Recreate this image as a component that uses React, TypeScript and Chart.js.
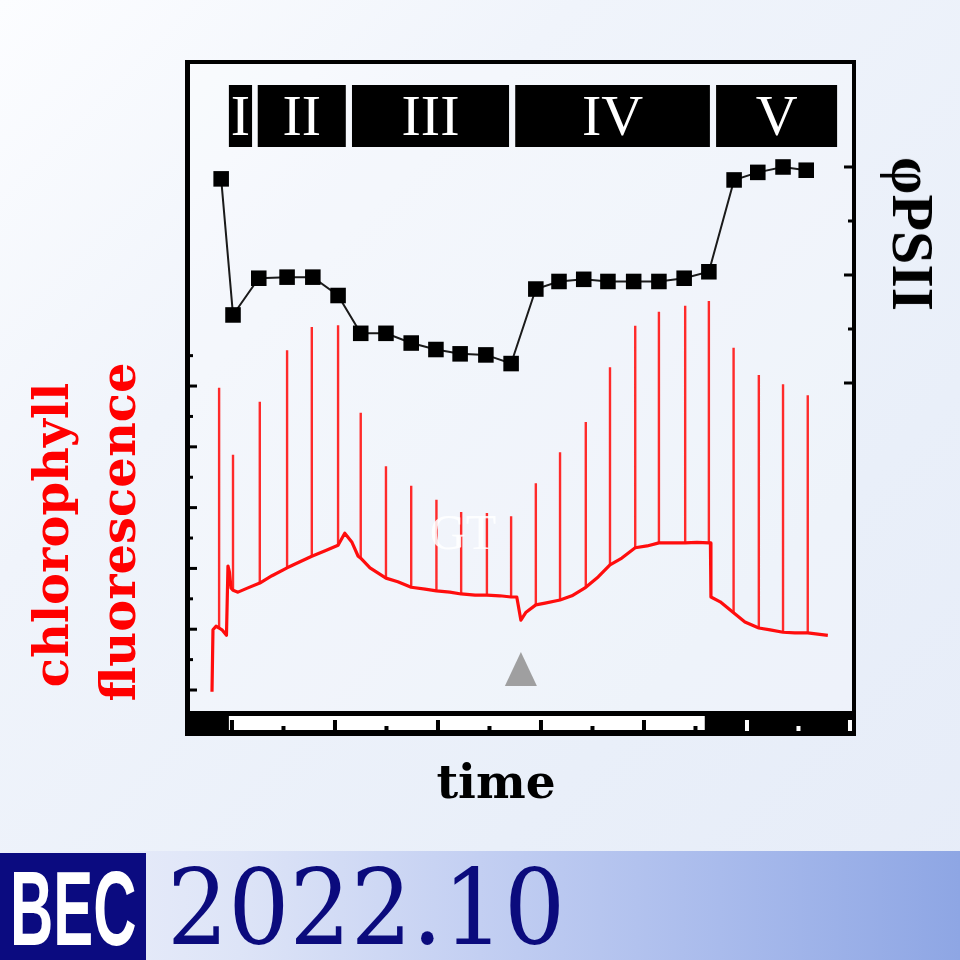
import React, { useEffect, useRef } from 'react';
import { Chart, registerables } from 'chart.js';

Chart.register(...registerables);

// ---- phase bar (top) ----
const phaseLabels = ['I', 'II', 'III', 'IV', 'V'];
const phaseStart = [-0.6, 5.0, 23.3, 55.0, 94.0];
const phaseEnd = [3.9, 22.1, 53.8, 92.8, 117.5];

// ---- light bar (bottom): light on / off (time units) ----
const lightPeriod = [-0.6, 91.8];
const timeTicks = [0, 10, 20, 30, 40, 50, 60, 70, 80, 90, 100, 110, 120];
const fluorTicks = [0, 0.5, 1, 1.5, 2, 2.5, 3, 3.5, 4, 4.5, 5, 5.5];
const phiTicks = [0.6, 0.65, 0.7, 0.75, 0.8];

// ---- ΦPSII (black squares) ----
const phiTime = [-2.1, 0.2, 5.2, 10.7, 15.7, 20.6, 25.0, 29.9, 34.8, 39.6, 44.3, 49.3, 54.2,
  59.0, 63.5, 68.3, 73.0, 78.0, 82.9, 87.8, 92.6, 97.5, 102.1, 107.0, 111.5];
const phiValue = [0.789, 0.663, 0.697, 0.698, 0.698, 0.681, 0.646, 0.646, 0.637, 0.631, 0.627, 0.626, 0.618,
  0.687, 0.694, 0.696, 0.694, 0.694, 0.694, 0.697, 0.703, 0.788, 0.795, 0.800, 0.797];

// ---- chlorophyll fluorescence: saturation pulses ----
const pulseTime = [-2.5, 0.2, 5.4, 10.7, 15.5, 20.6, 25.0, 29.9, 34.8, 39.7, 44.5, 49.5, 54.2,
  59.0, 63.7, 68.7, 73.4, 78.3, 82.9, 88.0, 92.6, 97.4, 102.3, 107.0, 111.8];
const pulseBase = [1.02, 1.64, 1.76, 2.01, 2.20, 2.38, 2.17, 1.84, 1.69, 1.63, 1.58, 1.56, 1.53,
  1.40, 1.48, 1.69, 2.06, 2.34, 2.42, 2.42, 2.42, 1.27, 1.02, 0.95, 0.94];
const pulsePeak = [4.97, 3.87, 4.74, 5.59, 5.97, 6.00, 4.56, 3.68, 3.36, 3.13, 2.93, 2.91, 2.86,
  3.40, 3.91, 4.41, 5.31, 5.99, 6.22, 6.32, 6.40, 5.63, 5.18, 5.03, 4.85];

// ---- chlorophyll fluorescence: baseline trace ----
const traceTime = [-3.88, -3.69, -3.1, -1.94, -1.07, -0.78, -0.49, -0.19, 1.17, 3.1, 7.77, 13.2, 18.1,
  21.9, 23.3, 24.5, 26.8, 32.2, 37.5, 42.3, 47.2, 52.0, 55.3, 56.1, 57.1, 60.8, 66.0, 71.1, 75.7,
  80.6, 85.4, 90.3, 92.9, 93.0, 94.8, 99.6, 104.5, 109.3, 115.7];
const traceF = [-0.03, 0.99, 1.05, 0.99, 0.90, 2.04, 1.94, 1.68, 1.61, 1.68, 1.88, 2.11, 2.29,
  2.58, 2.43, 2.20, 2.01, 1.78, 1.66, 1.61, 1.56, 1.55, 1.53, 1.15, 1.28, 1.43, 1.55, 1.86, 2.17,
  2.37, 2.42, 2.43, 2.42, 1.53, 1.45, 1.12, 0.99, 0.94, 0.90];

const markerTime = 56.1;

function buildBaseline() {
  const pts: { x: number; y: number }[] = [];
  traceTime.forEach((t, i) => pts.push({ x: t, y: traceF[i] }));
  pulseTime.forEach((t, i) => pts.push({ x: t, y: pulseBase[i] }));
  pts.sort((a, b) => a.x - b.x);
  return pts;
}

function buildPulses() {
  const pts: { x: number; y: number | null }[] = [];
  pulseTime.forEach((t, i) => {
    pts.push({ x: t, y: pulseBase[i] });
    pts.push({ x: t, y: pulsePeak[i] });
    pts.push({ x: t, y: null });
  });
  return pts;
}

const decor = {
  id: 'decor',
  beforeDatasetsDraw(chart: any) {
    const { ctx, chartArea: a } = chart;
    ctx.save();
    ctx.fillStyle = 'rgba(255,255,255,0.25)';
    ctx.fillRect(a.left, a.top, a.right - a.left, a.bottom - a.top);
    ctx.restore();
  },
  afterDatasetsDraw(chart: any) {
    const { ctx, chartArea: a, scales } = chart;
    const x = scales.x, yF = scales.yF, yP = scales.yP;
    ctx.save();

    // faint label in plot
    ctx.fillStyle = 'rgba(255,255,255,0.85)';
    ctx.font = '50px "Liberation Serif", serif';
    ctx.textAlign = 'center';
    ctx.textBaseline = 'alphabetic';
    ctx.fillText('GT', a.left + 275, a.top + 487);

    // triangle marker
    const tx = x.getPixelForValue(markerTime);
    ctx.fillStyle = 'rgba(150,150,150,0.9)';
    ctx.beginPath();
    ctx.moveTo(tx, a.bottom - 83);
    ctx.lineTo(tx + 16, a.bottom - 49);
    ctx.lineTo(tx - 16, a.bottom - 49);
    ctx.closePath();
    ctx.fill();

    // frame
    ctx.fillStyle = '#000';
    ctx.fillRect(a.left - 3, a.top - 2, 5, a.bottom - a.top + 3);
    ctx.fillRect(a.left - 3, a.top - 2, a.right - a.left + 5, 4);
    ctx.fillRect(a.right - 2, a.top - 2, 4, a.bottom - a.top + 3);
    ctx.fillRect(a.left - 3, a.bottom - 24, a.right - a.left + 5, 25);

    // light bar
    const xl = x.getPixelForValue(lightPeriod[0]);
    const xr = x.getPixelForValue(lightPeriod[1]);
    ctx.fillStyle = '#fff';
    ctx.fillRect(xl, a.bottom - 19, xr - xl, 14);
    timeTicks.forEach((t) => {
      const px = x.getPixelForValue(t);
      const major = t % 20 === 0;
      const inLight = t >= lightPeriod[0] && t <= lightPeriod[1];
      ctx.fillStyle = inLight ? '#000' : '#fff';
      const h = major ? 10 : 4;
      ctx.fillRect(px - 2, a.bottom - 5 - h, 4, h + (inLight ? 0 : 1));
    });

    // left ticks
    ctx.fillStyle = '#000';
    fluorTicks.forEach((v) => {
      const py = yF.getPixelForValue(v);
      const major = Number.isInteger(v);
      ctx.fillRect(a.left, py - 1.5, major ? 9 : 5, 3);
    });
    // right ticks
    phiTicks.forEach((v) => {
      const py = yP.getPixelForValue(v);
      const major = Math.round(v * 100) % 10 === 0;
      const len = major ? 10 : 6;
      ctx.fillRect(a.right - len, py - 1.5, len, 3);
    });

    // phase bar
    ctx.font = '58px "Liberation Serif", "Times New Roman", serif';
    ctx.textAlign = 'center';
    ctx.textBaseline = 'alphabetic';
    phaseLabels.forEach((lab, i) => {
      const x0 = x.getPixelForValue(phaseStart[i]);
      const x1 = x.getPixelForValue(phaseEnd[i]);
      ctx.fillStyle = '#000';
      ctx.fillRect(x0, a.top + 23, x1 - x0, 62);
      ctx.fillStyle = '#fff';
      ctx.fillText(lab, (x0 + x1) / 2, a.top + 73);
    });

    ctx.restore();
  },
};

export default function App() {
  const ref = useRef<HTMLCanvasElement | null>(null);
  useEffect(() => {
    if (!ref.current) return;
    const phiPoints = phiTime.map((t, i) => ({ x: t, y: phiValue[i] }));
    const chart = new Chart(ref.current, {
      type: 'line',
      data: {
        datasets: [
          {
            label: 'ΦPSII',
            data: phiPoints,
            yAxisID: 'yP',
            borderColor: '#1a1a1a',
            borderWidth: 2,
            pointStyle: 'rect',
            pointRadius: 11,
            pointBackgroundColor: '#000',
            pointBorderWidth: 0,
            order: 0,
          } as any,
          {
            label: 'chlorophyll fluorescence',
            data: buildBaseline(),
            yAxisID: 'yF',
            borderColor: '#ff0d0d',
            borderWidth: 3.2,
            borderJoinStyle: 'round',
            pointRadius: 0,
            order: 1,
          } as any,
          {
            label: 'saturation pulses',
            data: buildPulses(),
            yAxisID: 'yF',
            borderColor: '#ff2a2a',
            borderWidth: 2.4,
            pointRadius: 0,
            spanGaps: false,
            order: 2,
          } as any,
        ],
      },
      options: {
        animation: false,
        responsive: false,
        devicePixelRatio: 1,
        events: [],
        layout: { padding: { left: 188, top: 62, right: 106, bottom: 115 } },
        plugins: { legend: { display: false }, tooltip: { enabled: false } },
        elements: { line: { tension: 0 } },
        scales: {
          x: { type: 'linear', min: -8.54, max: 120.78, display: false },
          yF: { type: 'linear', position: 'left', min: -0.74, max: 10.33, display: false },
          yP: { type: 'linear', position: 'right', min: 0.2741, max: 0.8972, display: false },
        },
      } as any,
      plugins: [decor],
    });
    return () => chart.destroy();
  }, []);

  const abs: React.CSSProperties = { position: 'absolute', whiteSpace: 'nowrap', margin: 0 };
  return (
    <div style={{ position: 'absolute', left: 0, top: 0, width: 960, height: 960, overflow: 'hidden',
      background: 'linear-gradient(135deg, #fcfdff 0%, #f0f4fb 30%, #e9eff9 70%, #e6ecf8 100%)' }}>
      <canvas ref={ref} width={960} height={850} style={{ position: 'absolute', left: 0, top: 0 }} />
      <div style={{ ...abs, left: 51.4, top: 535, transform: 'translate(-50%,-50%) rotate(-90deg)',
        fontFamily: '"DejaVu Serif", serif', fontWeight: 700, fontSize: 48, lineHeight: '48px', color: '#ff0000' }}>chlorophyll</div>
      <div style={{ ...abs, left: 118.4, top: 532, transform: 'translate(-50%,-50%) rotate(-90deg)',
        fontFamily: '"DejaVu Serif", serif', fontWeight: 700, fontSize: 48, lineHeight: '48px', color: '#ff0000' }}>fluorescence</div>
      <div style={{ ...abs, left: 913, top: 234, transform: 'translate(-50%,-50%) rotate(90deg)',
        fontFamily: '"Liberation Serif", serif', fontWeight: 700, fontSize: 60, lineHeight: '60px', color: '#000' }}>φPSII</div>
      <div style={{ ...abs, left: 496, top: 758, transform: 'translateX(-50%)',
        fontFamily: '"DejaVu Serif", serif', fontWeight: 700, fontSize: 47, lineHeight: '47px', color: '#000' }}>time</div>
      <div style={{ ...abs, left: 0, top: 851, width: 960, height: 109,
        background: 'linear-gradient(90deg, #eef1fb 0%, #dde4f7 25%, #c3cff2 50%, #a9bbec 75%, #8ea6e4 100%)' }} />
      <div style={{ ...abs, left: 0, top: 853, width: 146, height: 107, background: '#0b0b80' }} />
      <div style={{ ...abs, left: 10, top: 856, transform: 'scaleX(0.57)', transformOrigin: '0 0',
        fontFamily: '"Liberation Sans", Arial, sans-serif', fontWeight: 700, fontSize: 105, lineHeight: '105px', color: '#fff' }}>BEC</div>
      <div style={{ ...abs, left: 167, top: 856, transform: 'scaleX(0.917)', transformOrigin: '0 0',
        fontFamily: '"DejaVu Serif", serif', fontSize: 105, lineHeight: '105px', color: '#0b0b7d' }}>2022.10</div>
    </div>
  );
}
